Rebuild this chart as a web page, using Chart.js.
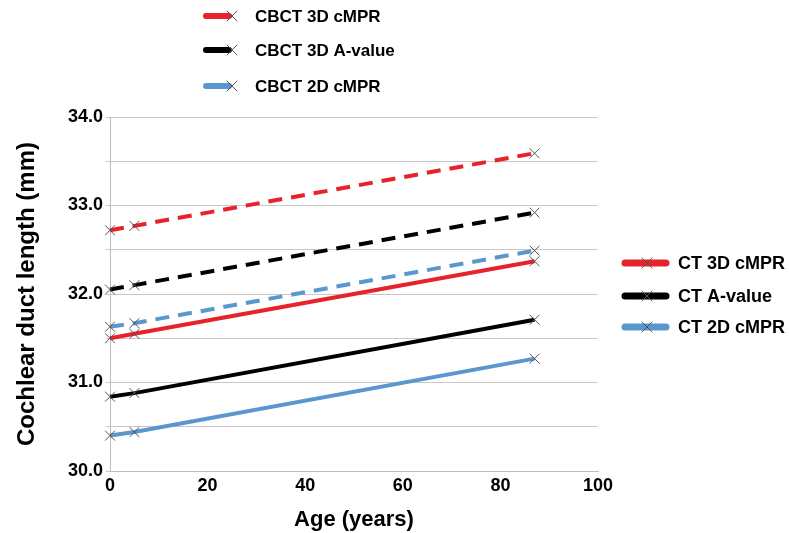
<!DOCTYPE html>
<html>
<head>
<meta charset="utf-8">
<script src="https://cdn.jsdelivr.net/npm/chart.js@4"></script>
<style>
  html, body { margin: 0; padding: 0; background: #fff; }
  #wrap { width: 789px; height: 533px; }
</style>
</head>
<body>
<div id="wrap"><canvas id="my-chart"></canvas></div>
<script>
'use strict';

// ******** DATA **************
let ages = [0, 5, 87];
let seriesNames = ['CBCT 3D cMPR', 'CBCT 3D A-value', 'CBCT 2D cMPR', 'CT 3D cMPR', 'CT A-value', 'CT 2D cMPR'];
let cbct3dCmpr = [32.72, 32.77, 33.59];
let cbct3dAvalue = [32.05, 32.10, 32.92];
let cbct2dCmpr = [31.63, 31.67, 32.49];
let ct3dCmpr = [31.50, 31.55, 32.37];
let ctAvalue = [30.84, 30.88, 31.71];
let ct2dCmpr = [30.40, 30.44, 31.27];
let xTicks = [0, 20, 40, 60, 80, 100];
let yTicks = [30.0, 31.0, 32.0, 33.0, 34.0];

let allValues = [cbct3dCmpr, cbct3dAvalue, cbct2dCmpr, ct3dCmpr, ctAvalue, ct2dCmpr];
let colors = ['#e8222a', '#000000', '#5b97cf', '#e8222a', '#000000', '#5b97cf'];
let dashed = [true, true, true, false, false, false];

const FONT = '"Liberation Sans", Arial, sans-serif';
const MARK = '#555555';

function makeDataset(i) {
  let points = [];
  for (let j = 0; j < ages.length; j++) {
    points.push({ x: ages[j], y: allValues[i][j] });
  }
  return {
    label: seriesNames[i],
    data: points,
    showLine: true,
    clip: false,
    borderColor: colors[i],
    borderWidth: 4,
    borderDash: dashed[i] ? [14, 9] : [],
    pointStyle: 'crossRot',
    pointRadius: 7,
    pointBorderWidth: 1,
    pointBorderColor: MARK,
    pointBackgroundColor: MARK,
    fill: false
  };
}

let datasets = [];
for (let i = allValues.length - 1; i >= 0; i--) {
  datasets.push(makeDataset(i));
}

// *********** LEGEND PLUGIN (two separate legends) ***********
function drawCross(ctx, x, y, r) {
  ctx.save();
  ctx.strokeStyle = MARK;
  ctx.lineWidth = 1;
  ctx.beginPath();
  ctx.moveTo(x - r, y - r); ctx.lineTo(x + r, y + r);
  ctx.moveTo(x - r, y + r); ctx.lineTo(x + r, y - r);
  ctx.stroke();
  ctx.restore();
}

let legendPlugin = {
  id: 'twoLegends',
  afterDraw(chart) {
    let ctx = chart.ctx;
    ctx.save();
    ctx.textBaseline = 'middle';
    ctx.textAlign = 'left';
    ctx.fillStyle = '#000';

    // top legend: CBCT
    let topRows = [16, 50, 86];
    ctx.font = 'bold 17px ' + FONT;
    for (let i = 0; i < 3; i++) {
      let y = topRows[i];
      ctx.strokeStyle = colors[i];
      ctx.lineWidth = 6;
      ctx.lineCap = 'round';
      ctx.beginPath();
      ctx.moveTo(206, y); ctx.lineTo(229, y);
      ctx.stroke();
      drawCross(ctx, 232, y, 5);
      ctx.fillText(seriesNames[i], 255, y + 1);
    }

    // right legend: CT
    let rightRows = [263, 296, 327];
    ctx.font = 'bold 18px ' + FONT;
    for (let i = 3; i < 6; i++) {
      let y = rightRows[i - 3];
      ctx.strokeStyle = colors[i];
      ctx.lineWidth = 7;
      ctx.lineCap = 'round';
      ctx.beginPath();
      ctx.moveTo(625, y); ctx.lineTo(666, y);
      ctx.stroke();
      drawCross(ctx, 647, y, 5);
      ctx.fillText(seriesNames[i], 678, y + 1);
    }
    ctx.restore();
  }
};

// *********** CHART ***********
let canvasElem = document.getElementById('my-chart');

new Chart(canvasElem, {
  type: 'scatter',
  data: { datasets: datasets },
  plugins: [legendPlugin],
  options: {
    responsive: true,
    maintainAspectRatio: false,
    animation: false,
    layout: { padding: { left: 0, top: 117, right: 191, bottom: 0 } },
    plugins: {
      legend: { display: false },
      tooltip: { enabled: false }
    },
    scales: {
      x: {
        type: 'linear',
        min: 0,
        max: 100,
        afterFit(scale) { scale.height = 62; },
        afterBuildTicks(scale) { scale.ticks = xTicks.map(v => ({ value: v })); },
        grid: { display: false, drawTicks: false, tickLength: 0 },
        border: { display: true, color: '#bdbdbd', width: 1 },
        ticks: {
          color: '#000',
          font: { family: FONT, size: 18, weight: 'bold' },
          padding: 4,
          maxRotation: 0
        },
        title: {
          display: true,
          text: 'Age (years)',
          color: '#000',
          font: { family: FONT, size: 22, weight: 'bold' },
          padding: { top: 0, bottom: 0 }
        }
      },
      y: {
        type: 'linear',
        min: 30,
        max: 34,
        afterFit(scale) { scale.width = 110; },
        ticks: {
          stepSize: 0.5,
          color: '#000',
          font: { family: FONT, size: 18, weight: 'bold' },
          padding: 3,
          callback(value) {
            return yTicks.includes(value) ? value.toFixed(1) : '';
          }
        },
        grid: { color: '#c8c8c8', lineWidth: 1, tickLength: 4 },
        border: { display: true, color: '#bdbdbd', width: 1 },
        title: {
          display: true,
          text: 'Cochlear duct length (mm)',
          color: '#000',
          font: { family: FONT, size: 24, weight: 'bold' },
          padding: { top: 13, bottom: 0 }
        }
      }
    }
  }
});
</script>
</body>
</html>
